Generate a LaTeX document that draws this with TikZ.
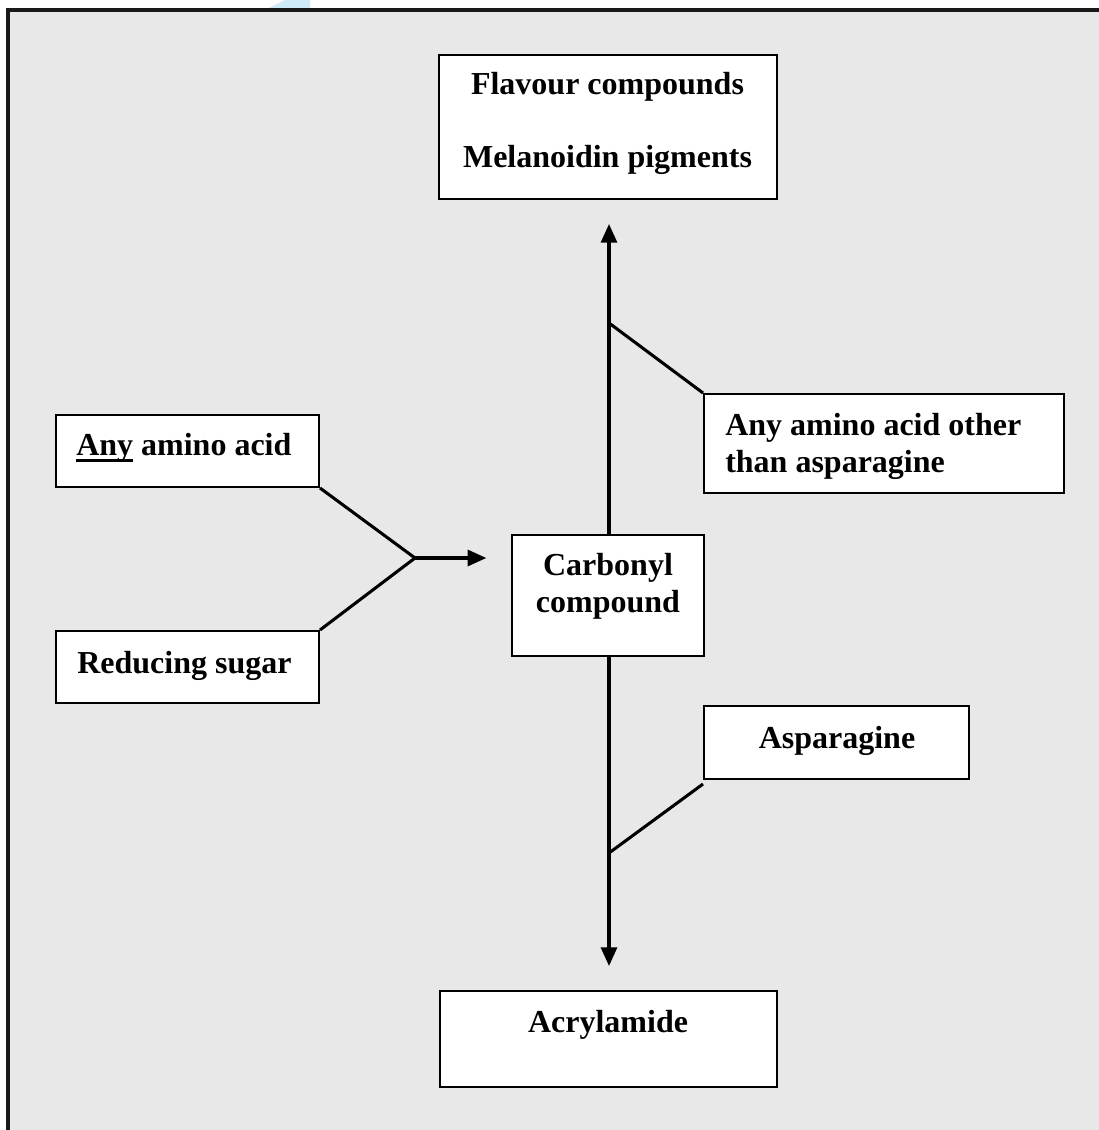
\documentclass[tikz,border=0pt]{standalone}
\usepackage{fontspec}
\setmainfont{Liberation Serif}
\usetikzlibrary{arrows.meta,fit}
\definecolor{framebg}{HTML}{E8E8E8}
\definecolor{wmblue}{HTML}{CFEAF8}
\newcommand\thickul[1]{\setbox0\hbox{#1}\rlap{\rule[-5.6pt]{\wd0}{2.4pt}}#1}
\begin{document}
\begin{tikzpicture}[x=0.75pt,y=-0.75pt,
  box/.style={draw=black,line width=1.5pt,fill=white,inner sep=0pt,rectangle},
  lbl/.style={font=\fontsize{24}{28}\selectfont\bfseries,inner sep=0pt},
  conn/.style={line width=2.3pt,black},
  arr/.style={conn,-{Triangle[width=12pt,length=14pt]}}]
\useasboundingbox (0,0) rectangle (1098,1130);
\fill[white] (0,0) rectangle (1098,1130);
\fill[wmblue] (265,10) -- (285,0) -- (310,0) -- (310,10) -- cycle;
\draw[line width=2.3pt,draw=black!90,fill=framebg] (8,10) rectangle (1120,1150);
% boxes
\node[box,fit={(439,55) (777,199)}] (flav) {};
\node[box,fit={(704,394) (1064,493)}] (other) {};
\node[box,fit={(56,415) (319,487)}] (aa) {};
\node[box,fit={(512,535) (704,656)}] (carb) {};
\node[box,fit={(56,631) (319,703)}] (rs) {};
\node[box,fit={(704,706) (969,779)}] (asp) {};
\node[box,fit={(440,991) (777,1087)}] (acryl) {};
% texts
\node[lbl,anchor=base] (t1) at (607.5,95) {Flavour compounds};
\node[lbl,anchor=base] (t2) at (607.5,168) {Melanoidin pigments};
\node[lbl,anchor=base west] (t3) at (725,435) {Any amino acid other};
\node[lbl,anchor=base west] (t4) at (725,472) {than asparagine};
\node[lbl,anchor=base west] (t5) at (76,455) {\thickul{Any} amino acid};
\node[lbl,anchor=base] (t6) at (608,575) {Carbonyl};
\node[lbl,anchor=base] (t7) at (608,612) {compound};
\node[lbl,anchor=base west] (t8) at (77,673) {Reducing sugar};
\node[lbl,anchor=base] (t9) at (837,748) {Asparagine};
\node[lbl,anchor=base] (t10) at (608,1032) {Acrylamide};
% connectors
\coordinate (br1) at (609,323);
\coordinate (br2) at (609,853);
\coordinate (join) at (415,558);
\draw[arr,shorten >=18pt] (carb.north -| br1) -- (flav.south -| br1);
\draw[arr,shorten >=18pt] (carb.south -| br1) -- (acryl.north -| br1);
\draw[conn] (br1) -- (other.north west);
\draw[conn] (br2) -- ([yshift=-3pt]asp.south west);
\draw[conn,line join=miter] (aa.south east) -- (join) -- (rs.north east);
\draw[arr,shorten >=18.5pt] (join) -- (join -| carb.west);
\end{tikzpicture}
\end{document}
